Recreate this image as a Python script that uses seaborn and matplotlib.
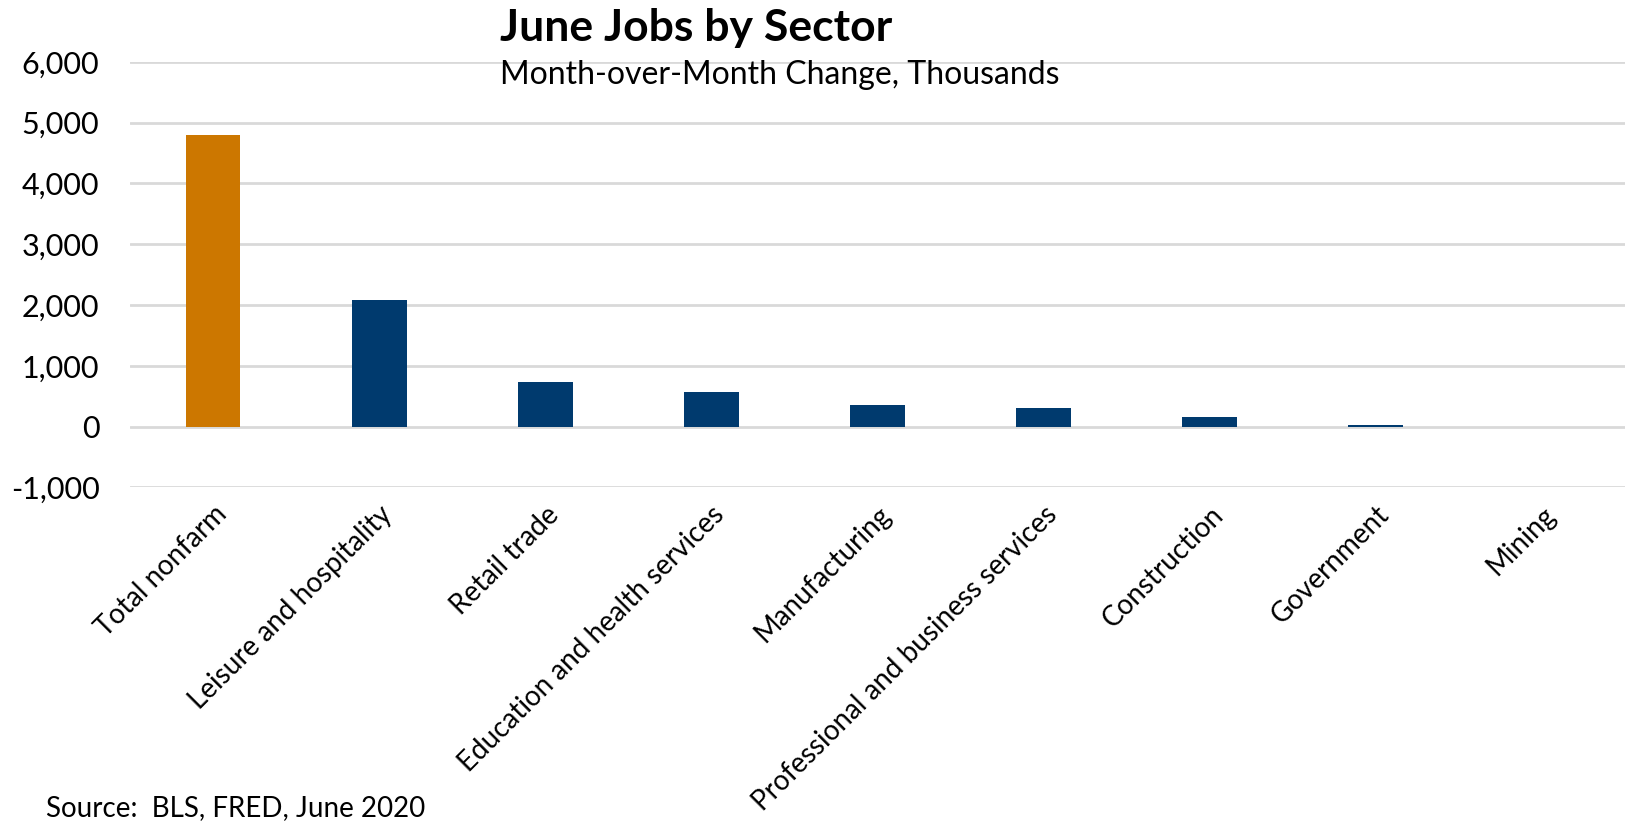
import matplotlib
matplotlib.use("Agg")
import matplotlib.pyplot as plt
import seaborn as sns
import pandas as pd

sectors = [
    "Total nonfarm",
    "Leisure and hospitality",
    "Retail trade",
    "Education and health services",
    "Manufacturing",
    "Professional and business services",
    "Construction",
    "Government",
    "Mining",
]
change_thousands = [4800, 2089, 740, 568, 356, 306, 158, 33, -10]
y_ticks = [-1000, 0, 1000, 2000, 3000, 4000, 5000, 6000]

ORANGE = "#CC7700"
NAVY = "#003A6E"

sns.set_theme(style="white")
plt.rcParams["font.family"] = ["Lato", "DejaVu Sans"]
plt.rcParams["text.color"] = "black"
plt.rcParams["xtick.color"] = "black"
plt.rcParams["ytick.color"] = "black"

df = pd.DataFrame({"sector": sectors, "change": change_thousands})
palette = {s: (ORANGE if i == 0 else NAVY) for i, s in enumerate(sectors)}

fig = plt.figure(figsize=(16.25, 8.26), dpi=100)
ax = fig.add_axes([0.080, 0.410, 0.920, 0.515])

sns.barplot(data=df, x="sector", y="change", hue="sector", palette=palette,
            order=sectors, width=0.33, legend=False, ax=ax, saturation=1,
            linewidth=0)

ax.set_ylim(-1000, 6000)
ax.set_xlim(-0.5, len(sectors) - 0.5)
ax.set_yticks(y_ticks)
ax.set_yticklabels([f"{v:,}" for v in y_ticks], fontsize=22)
ax.yaxis.grid(True, color="#D9D9D9", linewidth=2)
ax.set_axisbelow(True)
for sp in ax.spines.values():
    sp.set_visible(False)
ax.tick_params(axis="both", length=0)
ax.tick_params(axis="y", pad=22)
ax.set_xlabel("")
ax.set_ylabel("")
ax.set_xticks(range(len(sectors)))
ax.set_xticklabels(sectors, rotation=45, ha="right", rotation_mode="anchor",
                   fontsize=20)
ax.tick_params(axis="x", pad=10)

fig.text(0.308, 0.966, "June Jobs by Sector", fontsize=32, fontweight="bold",
         va="center", ha="left")
fig.text(0.308, 0.909, "Month-over-Month Change, Thousands", fontsize=23,
         va="center", ha="left")
fig.text(0.028, 0.022, "Source:  BLS, FRED, June 2020", fontsize=20,
         va="center", ha="left")

fig.savefig("out.png", dpi=100, facecolor="white")
